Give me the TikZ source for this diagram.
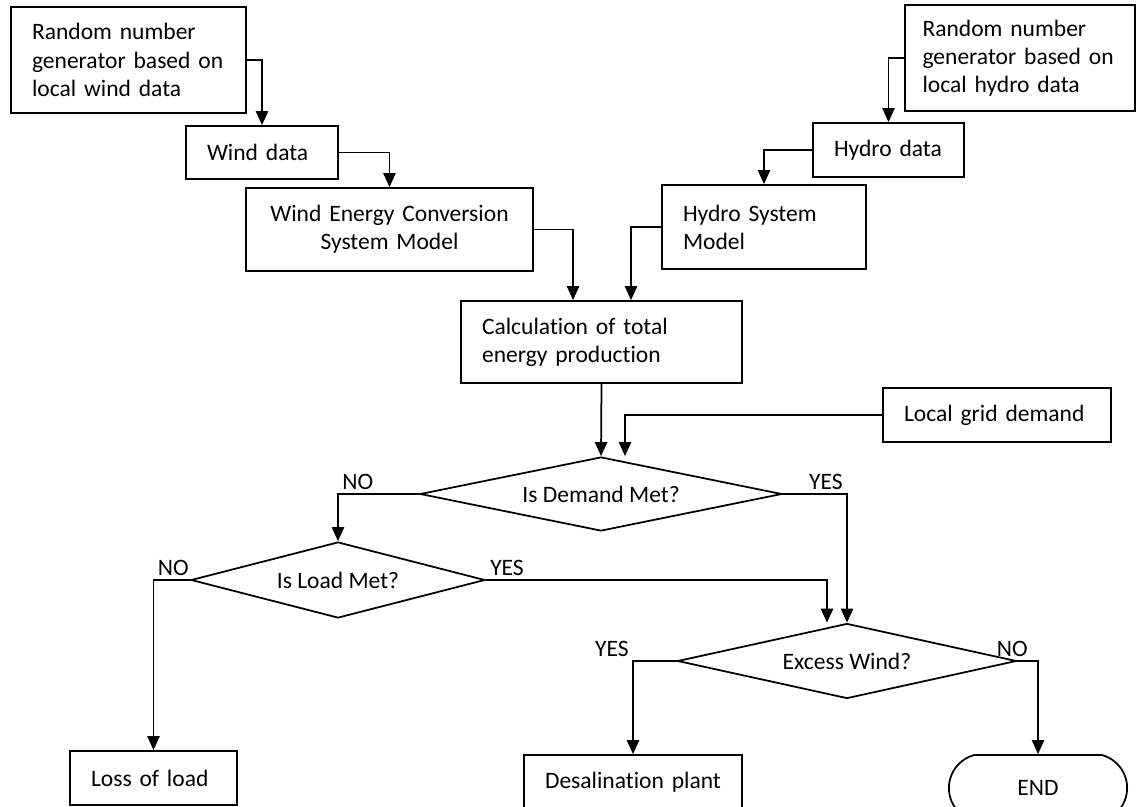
\documentclass[tikz,border=0pt]{standalone}
\usepackage{fontspec}
\setmainfont{Carlito}[Ligatures=NoCommon]
\usetikzlibrary{arrows.meta, shapes.geometric, shapes.misc}

\begin{document}
\begin{tikzpicture}[x=0.02cm, y=-0.02cm, font=\fontsize{13.4}{16}\selectfont,
	block/.style={draw, line width=1pt, align=left, inner xsep=0.42cm, inner ysep=0pt},
	decision/.style={draw, diamond, line width=1pt, inner sep=0pt},
	terminal/.style={draw, rounded rectangle, rounded rectangle arc length=150, line width=1pt},
	flow/.style={-{Triangle[length=8pt, width=7pt]}, line width=1pt},
	answer/.style={inner sep=2pt}]
	\useasboundingbox (0,0) rectangle (1138,807);
	
	% Components
	\node[block, text width=3.86cm, minimum height=2.12cm] (windrng) at (128.5,60) {Random number\\generator based on\\local wind data};
	\node[block, text width=2.20cm, minimum height=1.06cm] (winddata) at (262,152.5) {Wind data};
	\node[block, text width=4.90cm, minimum height=1.66cm, align=center] (wecs) at (389.5,229.5) {Wind Energy Conversion\\System Model};
	\node[block, text width=3.90cm, inner xsep=0.35cm, minimum height=2.12cm] (hydrorng) at (1020,58) {Random number\\generator based on\\local hydro data};
	\node[block, text width=2.18cm, minimum height=1.08cm] (hydrodata) at (888.5,150) {Hydro data};
	\node[block, text width=3.24cm, minimum height=1.68cm] (hydromodel) at (764,227) {Hydro System\\Model};
	\node[block, text width=4.78cm, minimum height=1.64cm] (total) at (601.5,342) {Calculation of total\\energy production};
	\node[block, text width=3.72cm, minimum height=1.08cm] (grid) at (997,415) {Local grid demand};
	\node[decision, minimum width=7.24cm, minimum height=1.48cm, aspect=4.9] (demand) at (601,494) {Is Demand Met?};
	\node[decision, minimum width=5.88cm, minimum height=1.52cm, aspect=3.9] (load) at (338,580) {Is Load Met?};
	\node[decision, minimum width=6.78cm, minimum height=1.50cm, aspect=4.5] (excess) at (847,661) {Excess Wind?};
	\node[block, text width=2.50cm, minimum height=1.08cm] (loss) at (153.5,778) {Loss of load};
	\node[block, text width=3.52cm, minimum height=1.08cm] (desal) at (633,782) {Desalination plant};
	\node[terminal, minimum width=3.8cm, minimum height=1.32cm] (end) at (1038,788) {END};
	
	% Connections
	\draw[flow] (windrng.east) -| (winddata.north);
	\draw[flow] (winddata.east) -| (wecs.north);
	\draw[flow] (wecs.east) -| ([xshift=-0.57cm]total.north);
	\draw[flow] (hydrorng.west) -| (hydrodata.north);
	\draw[flow] (hydrodata.west) -| (hydromodel.north);
	\draw[flow] (hydromodel.west) -| ([xshift=0.59cm]total.north);
	\draw[flow] (total.south) -- (demand.north);
	\draw[flow] (grid.west) -| ([xshift=0.48cm]demand.north);
	\draw[flow] (demand.west) -| node[answer, pos=0.5, anchor=south west] (demandno) {NO} (load.north);
	\draw[flow] (demand.east) -| node[answer, pos=0.5, anchor=south east] (demandyes) {YES} (excess.north);
	\draw[flow] (load.west) -| node[answer, pos=0.5, anchor=south west] (loadno) {NO} (loss.north);
	\draw[flow] (load.east) -| node[answer, pos=0, anchor=south west] (loadyes) {YES} ([xshift=-0.4cm]excess.north);
	\draw[flow] (excess.west) -| node[answer, pos=0.5, anchor=south east] (excessyes) {YES} (desal.north);
	\draw[flow] (excess.east) -| node[answer, pos=0, anchor=south, xshift=-0.1cm] (excessno) {NO} (end.north);
\end{tikzpicture}
\end{document}
